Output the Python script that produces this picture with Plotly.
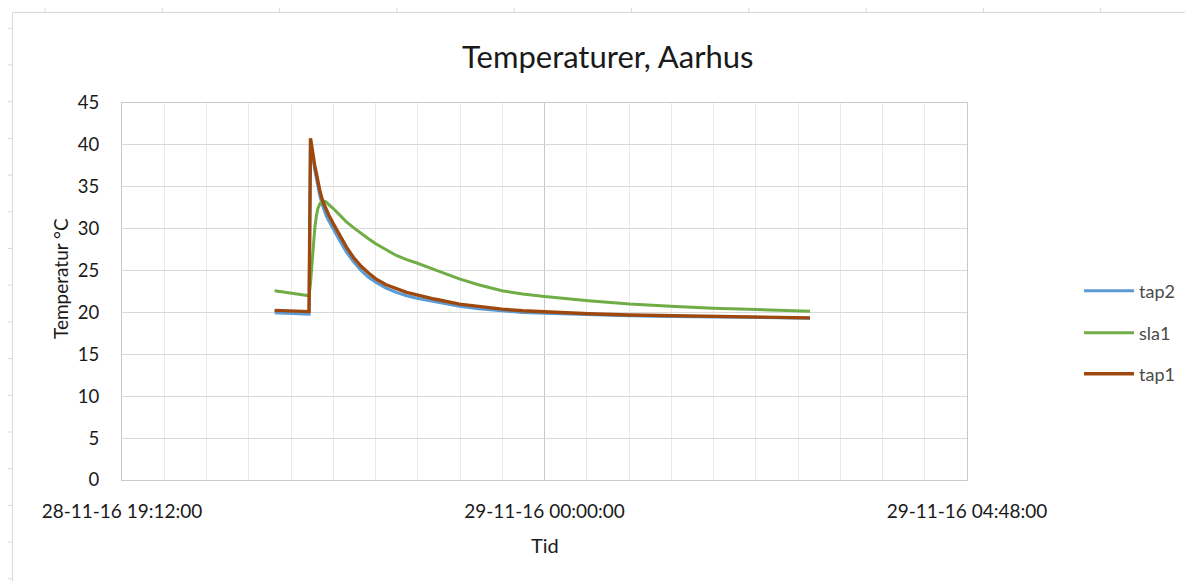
import plotly.graph_objects as go

# ---------------- data ----------------
times = [
    "2016-11-28 20:56:00", "2016-11-28 21:05:00", "2016-11-28 21:12:00", "2016-11-28 21:19:30",
    "2016-11-28 21:20:30", "2016-11-28 21:21:30", "2016-11-28 21:22:30", "2016-11-28 21:23:30",
    "2016-11-28 21:24:30", "2016-11-28 21:25:30", "2016-11-28 21:27:00", "2016-11-28 21:29:00",
    "2016-11-28 21:31:00", "2016-11-28 21:33:00", "2016-11-28 21:36:00", "2016-11-28 21:40:00",
    "2016-11-28 21:45:00", "2016-11-28 21:50:00", "2016-11-28 21:55:00", "2016-11-28 22:00:00",
    "2016-11-28 22:05:00", "2016-11-28 22:12:00", "2016-11-28 22:19:00", "2016-11-28 22:26:00",
    "2016-11-28 22:33:00", "2016-11-28 22:45:00", "2016-11-28 23:02:00", "2016-11-28 23:15:00",
    "2016-11-28 23:31:00", "2016-11-28 23:45:00", "2016-11-29 00:00:00", "2016-11-29 00:30:00",
    "2016-11-29 00:58:00", "2016-11-29 01:26:00", "2016-11-29 01:55:00", "2016-11-29 02:25:00",
    "2016-11-29 03:01:00",
]
tap2 = [19.95, 19.9, 19.85, 19.8, 40.4, 39.0, 37.9, 36.9, 36.0, 35.1, 33.8, 32.6,
        31.6, 30.9, 29.9, 28.7, 27.2, 26.0, 25.0, 24.2, 23.6, 22.9, 22.4, 22.0,
        21.7, 21.3, 20.75, 20.45, 20.2, 20.0, 19.9, 19.72, 19.6, 19.52, 19.45,
        19.38, 19.32]
sla1 = [22.6, 22.35, 22.15, 22.0, 23.5, 26.0, 28.3, 30.2, 31.5, 32.4, 33.0, 33.3,
        33.2, 32.9, 32.4, 31.7, 30.8, 30.1, 29.4, 28.8, 28.2, 27.5, 26.8, 26.3,
        25.9, 25.1, 24.0, 23.3, 22.6, 22.2, 21.9, 21.4, 21.0, 20.75, 20.5,
        20.35, 20.15]
tap1 = [20.25, 20.2, 20.15, 20.1, 40.8, 39.4, 38.3, 37.4, 36.6, 35.7, 34.4, 33.2,
        32.3, 31.6, 30.6, 29.3, 27.8, 26.5, 25.5, 24.7, 24.0, 23.3, 22.8, 22.4,
        22.1, 21.6, 21.0, 20.7, 20.4, 20.2, 20.05, 19.85, 19.7, 19.6, 19.5,
        19.42, 19.35]

series_names = ["tap2", "sla1", "tap1"]
series_values = [tap2, sla1, tap1]
series_colors = ["#5B9BD5", "#70AD47", "#9E480E"]

title_text = "Temperaturer, Aarhus"
x_title = "Tid"
y_title = "Temperatur °C"
x_range = ["2016-11-28 19:12:00", "2016-11-29 04:48:00"]

# ---------------- layout geometry (page pixels) ----------------
OFF = 8                      # default body margin of the html page
W, H = 1193 - OFF, 581 - OFF
L, R, T, B = 122, 967, 103, 480   # plot area in page pixels
FONT = "Lato, Carlito, Calibri, sans-serif"


def px(x):
    return (x - L) / (R - L)


def py(y):
    return (B - y) / (B - T)


fig = go.Figure()
legend_ids = ["legend", "legend2", "legend3"]
for name, vals, col, lid in zip(series_names, series_values, series_colors, legend_ids):
    fig.add_trace(go.Scatter(
        x=times, y=vals, name=name, mode="lines",
        line=dict(color=col, width=3.4 if name == "tap1" else 3),
        legend=lid,
    ))

legend_y = [291, 333, 374]
legend_common = dict(
    xanchor="left", yanchor="middle", bgcolor="rgba(0,0,0,0)",
    font=dict(family=FONT, size=18, color="#4a4a4a"), itemwidth=50,
)
layout_legends = {}
for lid, yy in zip(legend_ids, legend_y):
    layout_legends[lid] = dict(x=px(1079), y=py(yy), **legend_common)

# spreadsheet decoration outside the chart
shapes = []
shapes.append(dict(type="rect", xref="paper", yref="paper",
                   x0=px(12.5), x1=px(1210), y0=py(12.5), y1=py(600),
                   line=dict(color="#d9d9d9", width=1), fillcolor="rgba(0,0,0,0)",
                   layer="below"))
for k in range(10):
    xx = 45 + 117.3 * k
    shapes.append(dict(type="line", xref="paper", yref="paper",
                       x0=px(xx), x1=px(xx), y0=py(4), y1=py(12.5),
                       line=dict(color="#d9d9d9", width=1)))
for k in range(-2, 14):
    yy = 101.7 + 36.7 * k
    shapes.append(dict(type="line", xref="paper", yref="paper",
                       x0=px(0), x1=px(12.5), y0=py(yy), y1=py(yy),
                       line=dict(color="#d9d9d9", width=1)))

annotations = [
    dict(text=title_text, xref="paper", yref="paper", x=px(607), y=py(56),
         xanchor="center", yanchor="middle", showarrow=False,
         font=dict(family=FONT, size=31, color="#1a1a1a")),
    dict(text=x_title, xref="paper", yref="paper", x=px(545), y=py(545),
         xanchor="center", yanchor="middle", showarrow=False,
         font=dict(family=FONT, size=20, color="#1a1a1a")),
    dict(text=y_title, xref="paper", yref="paper", x=px(60), y=py(279),
         xanchor="center", yanchor="middle", showarrow=False, textangle=-90,
         font=dict(family=FONT, size=19, color="#1a1a1a")),
]

fig.update_layout(
    width=W, height=H,
    margin=dict(l=L - OFF, r=W - (R - OFF), t=T - OFF, b=H - (B - OFF), pad=0),
    paper_bgcolor="white", plot_bgcolor="white",
    shapes=shapes, annotations=annotations,
    showlegend=True,
    **layout_legends,
    xaxis=dict(
        type="date", range=x_range,
        tick0="2016-11-28 19:12:00", dtick=4.8 * 3600 * 1000,
        tickformat="%d-%m-%y %H:%M:%S",
        showgrid=True, gridcolor="#c9c9c9", gridwidth=1,
        minor=dict(dtick=0.48 * 3600 * 1000, tick0="2016-11-28 19:12:00",
                   showgrid=True, gridcolor="#e9e9e9", gridwidth=1),
        showline=True, linecolor="#c9c9c9", linewidth=1, mirror=True,
        ticks="outside", ticklen=14, tickcolor="rgba(0,0,0,0)",
        tickfont=dict(family=FONT, size=19, color="#1a1a1a"),
        zeroline=False, fixedrange=True,
    ),
    yaxis=dict(
        range=[0, 45], dtick=5, tick0=0,
        showgrid=True, gridcolor="#d9d9d9", gridwidth=1,
        showline=True, linecolor="#c9c9c9", linewidth=1, mirror=True,
        ticks="outside", ticklen=18, tickcolor="rgba(0,0,0,0)",
        tickfont=dict(family=FONT, size=18.5, color="#1a1a1a"),
        zeroline=False, fixedrange=True,
    ),
)

fig.write_html("out.html")
